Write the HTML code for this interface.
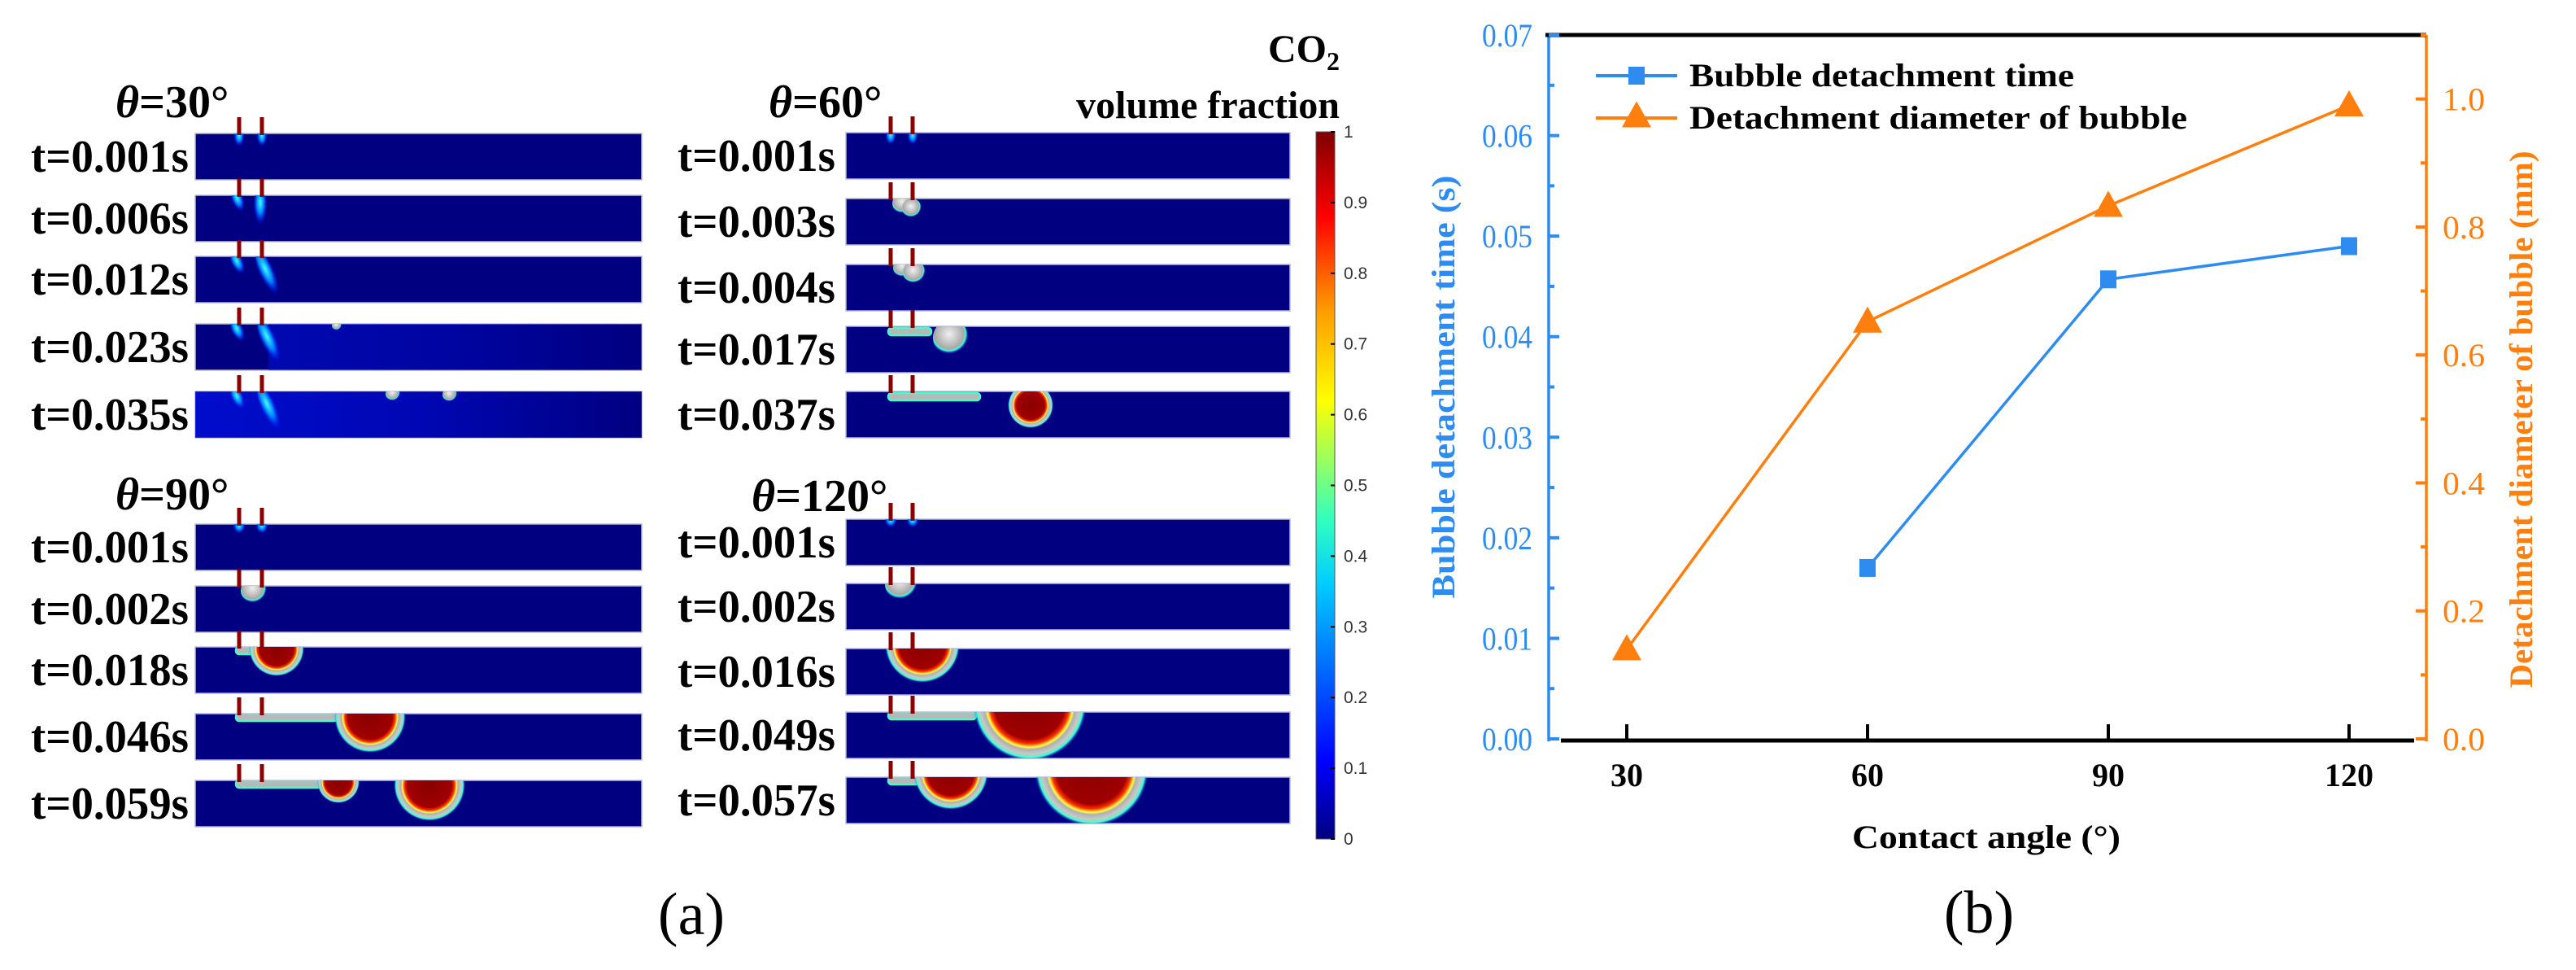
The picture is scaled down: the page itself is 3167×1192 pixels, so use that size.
<!DOCTYPE html>
<html><head><meta charset="utf-8"><style>
html,body{margin:0;padding:0;background:#fff;}
svg{display:block;font-family:"Liberation Serif",serif;}
</style></head><body>
<svg id="root" width="3167" height="1192" viewBox="0 0 3167 1192" xmlns="http://www.w3.org/2000/svg">
<defs>
<linearGradient id="jet" x1="0" y1="1" x2="0" y2="0">
<stop offset="0" stop-color="#00007f"/><stop offset="0.11" stop-color="#0000ff"/><stop offset="0.36" stop-color="#00ccff"/><stop offset="0.45" stop-color="#30ffc0"/><stop offset="0.62" stop-color="#ffff00"/><stop offset="0.75" stop-color="#ff9900"/><stop offset="0.88" stop-color="#ff0000"/><stop offset="1" stop-color="#7f0000"/>
</linearGradient>
<radialGradient id="bub" cx="0.5" cy="0.5" r="0.5">
<stop offset="0" stop-color="#8a0000"/><stop offset="0.62" stop-color="#a00000"/><stop offset="0.7" stop-color="#ff3000"/><stop offset="0.76" stop-color="#ffff40"/><stop offset="0.8" stop-color="#b0b0b0"/><stop offset="0.88" stop-color="#c8c8c8"/><stop offset="0.94" stop-color="#40ffd0"/><stop offset="1" stop-color="#0040ff" stop-opacity="0"/>
</radialGradient>
<radialGradient id="gbub" cx="0.45" cy="0.4" r="0.55">
<stop offset="0" stop-color="#f0f0f0"/><stop offset="0.75" stop-color="#a8a8a8"/><stop offset="0.85" stop-color="#40ffd0"/><stop offset="1" stop-color="#0040ff" stop-opacity="0"/>
</radialGradient>
<radialGradient id="glow" cx="0.5" cy="0.3" r="0.5">
<stop offset="0" stop-color="#40ffff"/><stop offset="0.5" stop-color="#0080ff"/><stop offset="1" stop-color="#0000ff" stop-opacity="0"/>
</radialGradient>
<linearGradient id="blueish" x1="0" y1="0" x2="1" y2="0">
<stop offset="0" stop-color="#0010e0"/><stop offset="0.5" stop-color="#0008c0"/><stop offset="1" stop-color="#000080"/>
</linearGradient>
</defs>
<g id="panelA"></g>
<g id="chart"></g>
</svg>
<script>
// ---------- Chart data (panel b) ----------
const categories = [30, 60, 90, 120];
const timeValues = [null, 0.017, 0.0457, 0.049];
const diameterValues = [0.14, 0.652, 0.833, 0.99];
const leftTicks = [0, 0.01, 0.02, 0.03, 0.04, 0.05, 0.06, 0.07];
const leftTickLabels = ["0.00","0.01","0.02","0.03","0.04","0.05","0.06","0.07"];
const rightTicks = [0, 0.2, 0.4, 0.6, 0.8, 1.0];
const rightTickLabels = ["0.0","0.2","0.4","0.6","0.8","1.0"];
const xTickLabels = ["30","60","90","120"];
const colorbarTicks = [0,0.1,0.2,0.3,0.4,0.5,0.6,0.7,0.8,0.9,1];
const colorbarLabels = ["0","0.1","0.2","0.3","0.4","0.5","0.6","0.7","0.8","0.9","1"];

const NS = "http://www.w3.org/2000/svg";
function mk(tag, attrs, parent){const e=document.createElementNS(NS,tag);for(const k in attrs)e.setAttribute(k,attrs[k]);parent.appendChild(e);return e;}
function txt(s, attrs, parent){const e=mk("text",attrs,parent);e.textContent=s;return e;}

// ---------- Panel A ----------
const A = document.getElementById("panelA");
const leftTops = [164,240,315,398,481,644,720,795,877,959];
const rightTops = [163,244,325,401,481,638,717,797,875,955];
const leftTimes = ["t=0.001s","t=0.006s","t=0.012s","t=0.023s","t=0.035s","t=0.001s","t=0.002s","t=0.018s","t=0.046s","t=0.059s"];
const rightTimes = ["t=0.001s","t=0.003s","t=0.004s","t=0.017s","t=0.037s","t=0.001s","t=0.002s","t=0.016s","t=0.049s","t=0.057s"];
const SH = 57;

function strip(x0, x1, y, label, lx, e1, e2, idx, col){
  const g = mk("g",{},A);
  
  
  const cp = mk("clipPath",{id:"cp"+col+idx},g);
  mk("rect",{x:x0,y:y,width:x1-x0,height:SH},cp);
  const r = mk("rect",{x:x0,y:y,width:x1-x0,height:SH,fill:"#000080",stroke:"#b8b8d8","stroke-width":1.5},g);
  
  
  const inner = mk("g",{"clip-path":"url(#cp"+col+idx+")"},g);
  [e1,e2].forEach(ex=>{
    const el = mk("rect",{x:ex-2.5,y:y-20,width:5,height:22,fill:"#8b0000"},g);
    
    
  });
  const t = txt(label,{x:lx,y:y+SH-10,"font-size":56,"font-weight":"bold",textLength:194,lengthAdjust:"spacingAndGlyphs",fill:"#000"},A);
  
  
  return {inner,y,e1,e2};
}
function glow(g,cx,cy,rx,ry,rot){mk("ellipse",{cx:cx,cy:cy,rx:rx,ry:ry,fill:"url(#glow)",transform:"rotate("+(rot||0)+" "+cx+" "+cy+")"},g);}
function gb(g,cx,cy,r){mk("circle",{cx:cx,cy:cy,r:r,fill:"url(#gbub)"},g);}
function rb(g,cx,cy,r){mk("circle",{cx:cx,cy:cy,r:r,fill:"url(#bub)"},g);}
function film(g,x0,x1,y){mk("rect",{x:x0,y:y,width:x1-x0,height:9,rx:4,fill:"#b8b8b8",stroke:"#40ffd0","stroke-width":2.5},g);}

const L = leftTops.map((y,i)=>strip(240,789,y,leftTimes[i],38,294,322,i,"left"));
const R = rightTops.map((y,i)=>strip(1040,1586,y,rightTimes[i],833,1095,1122,i,"right"));

glow(L[0].inner,294,L[0].y+8,7,14);glow(L[0].inner,322,L[0].y+8,7,14);
glow(L[1].inner,294,L[1].y+10,8,18,-20);glow(L[1].inner,320,L[1].y+20,9,28,0);
glow(L[2].inner,294,L[2].y+12,8,18,-25);glow(L[2].inner,332,L[2].y+28,10,36,-25);
mk("rect",{x:330,y:L[3].y,width:460,height:SH,fill:"url(#blueish)",opacity:0.5},L[3].inner);
glow(L[3].inner,294,L[3].y+12,8,18,-25);glow(L[3].inner,334,L[3].y+28,10,36,-25);gb(L[3].inner,414,L[3].y+2,6);
mk("rect",{x:240,y:L[4].y,width:550,height:SH,fill:"url(#blueish)",opacity:0.8},L[4].inner);
glow(L[4].inner,294,L[4].y+12,8,18,-25);glow(L[4].inner,334,L[4].y+28,10,36,-25);gb(L[4].inner,483,L[4].y+3,9);gb(L[4].inner,553,L[4].y+4,9);
glow(R[0].inner,1095,R[0].y+8,7,12);glow(R[0].inner,1122,R[0].y+8,7,12);
gb(R[1].inner,1110,R[1].y+6,13);gb(R[1].inner,1121,R[1].y+12,12);
gb(R[2].inner,1110,R[2].y+4,12);gb(R[2].inner,1124,R[2].y+10,14);
film(R[3].inner,1092,1145,R[3].y+2);gb(R[3].inner,1169,R[3].y+14,22);
film(R[4].inner,1092,1205,R[4].y+2);rb(R[4].inner,1267,R[4].y+17,28);
glow(L[5].inner,294,L[5].y+6,8,10);glow(L[5].inner,322,L[5].y+6,8,10);
gb(L[6].inner,312,L[6].y+6,16);
film(L[7].inner,290,320,L[7].y);rb(L[7].inner,340,L[7].y+2,34);
film(L[8].inner,290,415,L[8].y);rb(L[8].inner,455,L[8].y+4,44);
film(L[9].inner,290,395,L[9].y);rb(L[9].inner,416,L[9].y+2,26);rb(L[9].inner,528,L[9].y+6,44);
glow(R[5].inner,1095,R[5].y+5,8,9);glow(R[5].inner,1122,R[5].y+5,8,9);
gb(R[6].inner,1108,R[6].y+1,20);
rb(R[7].inner,1134,R[7].y-4,46);
film(R[8].inner,1092,1200,R[8].y);rb(R[8].inner,1266,R[8].y-10,70);
film(R[9].inner,1092,1130,R[9].y);rb(R[9].inner,1169,R[9].y-6,46);rb(R[9].inner,1342,R[9].y-10,70);

[["30",142,144],["60",945,144],["90",142,626],["120",924,628]].forEach(([v,x,y])=>{
  const t = mk("text",{x:x,y:y,"font-size":56,"font-weight":"bold",fill:"#000"},A);
  
  
  const th = mk("tspan",{"font-style":"italic"},t); th.textContent="θ";
  const rest = mk("tspan",{},t); rest.textContent="="+v+"°";
});
const cbt = mk("text",{x:1647,y:76,"font-size":48,"font-weight":"bold","text-anchor":"end",fill:"#000"},A);


const c1 = mk("tspan",{},cbt); c1.textContent="CO";
const c2 = mk("tspan",{"font-size":32,dy:10},cbt); c2.textContent="2";
const vf = txt("volume fraction",{x:1647,y:145,"font-size":48,"font-weight":"bold","text-anchor":"end",fill:"#000"},A);


const cbTop=162, cbBot=1031;
const cb = mk("rect",{x:1618,y:cbTop,width:23,height:cbBot-cbTop,fill:"url(#jet)",stroke:"#555","stroke-width":1},A);


colorbarTicks.forEach((v,i)=>{
  const y = cbBot - v*(cbBot-cbTop);
  mk("line",{x1:1636,x2:1641,y1:y,y2:y,stroke:"#000","stroke-width":2},A);
  const t = txt(colorbarLabels[i],{x:1652,y:y+7,"font-size":21,"font-family":"Liberation Sans, sans-serif",fill:"#333"},A);
  
  
});
const la = txt("(a)",{x:850,y:1148,"font-size":74,"text-anchor":"middle",fill:"#000"},A);



// ---------- Panel B chart ----------
const C = document.getElementById("chart");
const PL=1904, PR=2983, PT=43, PB=908;
const xMin=20.27, xMax=129.63, yLMax=0.07, yRMax=1.1;
const BLUE="#2e8cf0", ORANGE="#ff7f0e";
function xs(v){return PL+(v-xMin)/(xMax-xMin)*(PR-PL);}
function yl(v){return PB-v/yLMax*(PB-PT);}
function yr(v){return PB-v/yRMax*(PB-PT);}

const la1=mk("line",{x1:PL,x2:PL,y1:PT,y2:PB+3,stroke:BLUE,"stroke-width":3.5},C);


const ra1=mk("line",{x1:PR,x2:PR,y1:PT,y2:PB+3,stroke:ORANGE,"stroke-width":3.5},C);


const ta1=mk("line",{x1:PL-4,x2:PR,y1:PT,y2:PT,stroke:"#000","stroke-width":5},C);


const xa1=mk("line",{x1:PL+15,x2:PR-15,y1:PB+2,y2:PB+2,stroke:"#000","stroke-width":5},C);



leftTicks.forEach((v,i)=>{
  const y=yl(v);
  mk("line",{x1:PL,x2:PL+13,y1:y,y2:y,stroke:BLUE,"stroke-width":4},C);
  if(i<leftTicks.length-1){const ym=yl(v+0.005);mk("line",{x1:PL,x2:PL+7,y1:ym,y2:ym,stroke:BLUE,"stroke-width":4},C);}
  const t=txt(leftTickLabels[i],{x:PL-20,y:y+14,"font-size":40,"text-anchor":"end",fill:BLUE,textLength:62,lengthAdjust:"spacingAndGlyphs"},C);
  
  
});
rightTicks.forEach((v,i)=>{
  const y=yr(v);
  mk("line",{x1:PR-13,x2:PR,y1:y,y2:y,stroke:ORANGE,"stroke-width":4},C);
  const ym=yr(v+0.1);
  if(v+0.1<=yRMax) mk("line",{x1:PR-7,x2:PR,y1:ym,y2:ym,stroke:ORANGE,"stroke-width":4},C);
  const t=txt(rightTickLabels[i],{x:PR+20,y:y+14,"font-size":40,fill:ORANGE,textLength:52,lengthAdjust:"spacingAndGlyphs"},C);
  
  
});
categories.forEach((c,i)=>{
  const x=xs(c);
  mk("line",{x1:x,x2:x,y1:PB,y2:PB-18,stroke:"#000","stroke-width":4},C);
  const t=txt(xTickLabels[i],{x:x,y:PB+58,"font-size":40,"font-weight":"bold","text-anchor":"middle",fill:"#000"},C);
  
  
});
const xt=txt("Contact angle (°)",{x:2442,y:1042,"font-size":40,"font-weight":"bold","text-anchor":"middle",fill:"#000",textLength:330,lengthAdjust:"spacingAndGlyphs"},C);


const ylt=txt("Bubble detachment time (s)",{x:0,y:0,"font-size":40,"font-weight":"bold","text-anchor":"middle",fill:BLUE,transform:"translate(1788,"+((PT+PB)/2)+") rotate(-90)",textLength:520,lengthAdjust:"spacingAndGlyphs"},C);


const yrt=txt("Detachment diameter of bubble (mm)",{x:0,y:0,"font-size":40,"font-weight":"bold","text-anchor":"middle",fill:ORANGE,transform:"translate(3113,"+((PT+PB)/2+40)+") rotate(-90)",textLength:660,lengthAdjust:"spacingAndGlyphs"},C);


const lb=txt("(b)",{x:2433,y:1146,"font-size":74,"text-anchor":"middle",fill:"#000"},C);



let dT="", dD="";
categories.forEach((c,i)=>{
  if(timeValues[i]!==null){dT+=(dT?"L":"M")+xs(c)+" "+yl(timeValues[i]);}
  dD+=(dD?"L":"M")+xs(c)+" "+yr(diameterValues[i]);
});
const lineD=mk("path",{d:dD,fill:"none",stroke:ORANGE,"stroke-width":3.5},C);


const lineT=mk("path",{d:dT,fill:"none",stroke:BLUE,"stroke-width":3.5},C);


function tri(cx,cy,s){return (cx)+","+(cy-s*0.62)+" "+(cx-s*0.6)+","+(cy+s*0.45)+" "+(cx+s*0.6)+","+(cy+s*0.45);}
categories.forEach((c,i)=>{
  const p=mk("polygon",{points:tri(xs(c),yr(diameterValues[i]),30),fill:ORANGE},C);
  
  
  if(timeValues[i]!==null){
    const s=mk("rect",{x:xs(c)-10,y:yl(timeValues[i])-11,width:20,height:22,fill:BLUE},C);
    
    
  }
});
const lg=mk("g",{},C);


const l1=mk("g",{},lg);


mk("line",{x1:1962,x2:2062,y1:93,y2:93,stroke:BLUE,"stroke-width":4},l1);
mk("rect",{x:2002,y:82,width:20,height:22,fill:BLUE},l1);
txt("Bubble detachment time",{x:2077,y:106,"font-size":40,"font-weight":"bold",fill:"#000",textLength:473,lengthAdjust:"spacingAndGlyphs"},l1);
const l2=mk("g",{},lg);


mk("line",{x1:1962,x2:2062,y1:145,y2:145,stroke:ORANGE,"stroke-width":4},l2);
mk("polygon",{points:tri(2012,143,30),fill:ORANGE},l2);
txt("Detachment diameter of bubble",{x:2077,y:158,"font-size":40,"font-weight":"bold",fill:"#000",textLength:612,lengthAdjust:"spacingAndGlyphs"},l2);
</script>
</body></html>
